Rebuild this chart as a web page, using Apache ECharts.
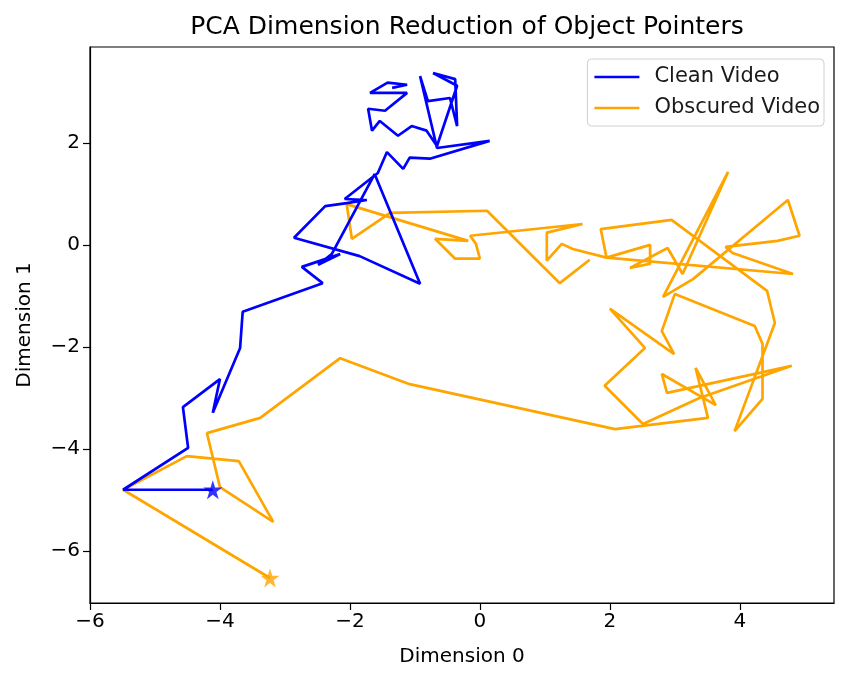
<!DOCTYPE html>
<html><head><meta charset="utf-8">
<script src="https://cdn.jsdelivr.net/npm/echarts@6/dist/echarts.min.js"></script>
<style>html,body{margin:0;padding:0;background:#fff}#c{width:843px;height:679px}</style>
</head><body><div id="c"></div>
<script>
const xTicks = [-6, -4, -2, 0, 2, 4];
const yTicks = [-6, -4, -2, 0, 2];
const cleanX = [-4.11,-5.49,-4.49,-4.57,-4.0,-4.11,-3.69,-3.65,-2.42,-2.74,-2.15,-2.49,-2.28,-1.62,-0.92,-1.85,-2.86,-2.38,-2.05,-1.74,-2.08,-1.57,-1.43,-1.18,-1.08,-0.77,0.15,-0.66,-0.92,-0.80,-0.46,-0.35,-0.38,-0.72,-0.35,-0.66,-0.82,-1.05,-1.26,-1.54,-1.66,-1.72,-1.46,-1.12,-1.69,-1.42,-1.12,-1.35];
const cleanY = [-4.80,-4.80,-3.98,-3.18,-2.63,-3.29,-2.02,-1.31,-0.75,-0.43,-0.18,-0.39,-0.18,1.39,-0.76,-0.22,0.14,0.76,0.82,0.88,0.90,1.41,1.82,1.49,1.71,1.69,2.04,1.90,3.31,2.82,2.88,2.33,3.25,3.37,3.12,1.94,2.24,2.33,2.14,2.43,2.24,2.67,2.63,2.98,2.98,3.18,3.14,3.08];
const obscX = [-3.23,-5.49,-4.51,-3.71,-3.18,-4.0,-4.2,-3.38,-2.15,-1.08,2.08,3.51,3.32,3.63,2.80,2.88,4.80,3.38,2.51,1.92,2.54,2.0,2.99,2.80,3.0,4.23,4.35,4.35,3.92,4.54,4.42,2.95,1.86,1.95,2.62,2.62,2.31,2.89,3.12,3.82,2.82,3.28,4.74,4.92,4.58,3.78,3.89,4.82,1.95,1.43,1.26,1.03,1.03,1.58,-0.15,-0.06,0.0,-0.38,-0.69,-0.18,-2.05,-1.97,-1.38,0.11,1.23,1.69];
const obscY = [-6.53,-4.80,-4.14,-4.24,-5.43,-4.75,-3.69,-3.39,-2.22,-2.73,-3.61,-3.39,-2.41,-3.14,-2.53,-2.90,-2.37,-3.0,-3.51,-2.76,-2.02,-1.25,-2.14,-1.69,-0.96,-1.59,-1.94,-3.02,-3.65,-1.53,-0.90,0.49,0.31,-0.25,0.0,-0.37,-0.45,-0.06,-0.57,1.43,-1.02,-0.67,0.88,0.18,0.08,-0.04,-0.16,-0.57,-0.25,-0.08,0.02,-0.31,0.24,0.41,0.18,0.02,-0.27,-0.27,0.12,0.08,0.80,0.12,0.63,0.67,-0.75,-0.29];
const seriesNames = ['Clean Video', 'Obscured Video'];
const colors = ['#0000ff', '#ffa500'];

const zip = (xs, ys) => xs.map((x, i) => [x, ys[i]]);
const star = 'path://M0,-1 L0.2245,-0.309 L0.951,-0.309 L0.363,0.118 L0.588,0.809 L0,0.382 L-0.588,0.809 L-0.363,0.118 L-0.951,-0.309 L-0.2245,-0.309 Z';
const fmt = v => String(v).replace('-', '\u2212');
const font = 'DejaVu Sans';
const fs = 20;

const chart = echarts.init(document.getElementById('c'), null, {renderer: 'canvas'});
chart.setOption({
  animation: false,
  backgroundColor: '#fff',
  textStyle: {fontFamily: font, color: '#000'},
  title: {text: 'PCA Dimension Reduction of Object Pointers', left: 462, textAlign: 'center', top: 10,
    textStyle: {fontFamily: font, fontSize: 25, fontWeight: 'normal', color: '#000'}},
  grid: {left: 90, right: 9, top: 47, bottom: 76, show: true, borderColor: '#000', borderWidth: 1.2, containLabel: false},
  legend: {
    data: seriesNames.map(n => ({name: n, icon: 'rect'})), orient: 'vertical', right: 19, top: 59,
    backgroundColor: '#fff', borderColor: '#d0d0d0', borderWidth: 1, borderRadius: 4,
    padding: [6, 4, 6, 7], itemGap: 7, itemWidth: 45, itemHeight: 2.6,
    textStyle: {fontFamily: font, fontSize: 21, color: '#1a1a1a', padding: [0, 0, 0, 10], lineHeight: 24}
  },
  xAxis: {
    type: 'value', min: -6, max: 5.45, name: 'Dimension 0', nameLocation: 'middle', nameGap: 44,
    nameTextStyle: {fontFamily: font, fontSize: fs, color: '#000'},
    axisLine: {show: true, onZero: false, lineStyle: {color: '#000', width: 1.2}},
    axisTick: {show: true, length: 7, lineStyle: {color: '#000', width: 1.2}, customValues: xTicks},
    axisLabel: {fontFamily: font, fontSize: fs, color: '#000', margin: 9, formatter: fmt, customValues: xTicks},
    splitLine: {show: false}
  },
  yAxis: {
    type: 'value', min: -7.02, max: 3.88, name: 'Dimension 1', nameLocation: 'middle', nameGap: 55,
    nameTextStyle: {fontFamily: font, fontSize: fs, color: '#000'},
    axisLine: {show: true, onZero: false, lineStyle: {color: '#000', width: 1.2}},
    axisTick: {show: true, length: 7, lineStyle: {color: '#000', width: 1.2}, customValues: yTicks},
    axisLabel: {fontFamily: font, fontSize: fs, color: '#000', margin: 10, formatter: fmt, customValues: yTicks},
    splitLine: {show: false}
  },
  series: [
    {name: seriesNames[0], type: 'line', data: zip(cleanX, cleanY), symbol: 'none', clip: true,
      lineStyle: {color: colors[0], width: 2.7}, itemStyle: {color: colors[0]}, z: 3},
    {name: seriesNames[1], type: 'line', data: zip(obscX, obscY), symbol: 'none', clip: true,
      lineStyle: {color: colors[1], width: 2.7}, itemStyle: {color: colors[1]}, z: 2},
    {name: 'cleanStart', type: 'scatter', data: [[cleanX[0], cleanY[0]]], symbol: star, symbolSize: 19,
      itemStyle: {color: colors[0]}, z: 5},
    {name: 'obscStart', type: 'scatter', data: [[obscX[0], obscY[0]]], symbol: star, symbolSize: 19,
      itemStyle: {color: colors[1]}, z: 5}
  ]
});
</script></body></html>
